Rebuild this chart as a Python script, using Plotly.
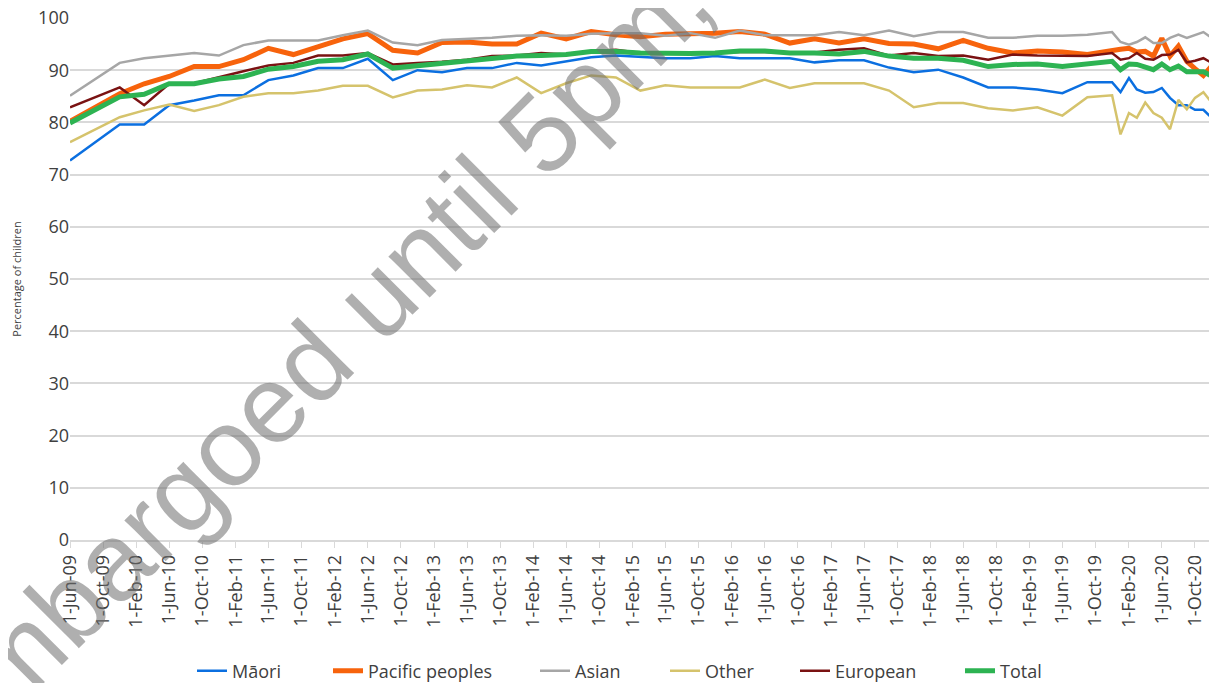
import plotly.graph_objects as go
import pandas as pd

dates = [
    "2009-06-01", "2009-12-01",
    "2010-03-01", "2010-06-01", "2010-09-01", "2010-12-01",
    "2011-03-01", "2011-06-01", "2011-09-01", "2011-12-01",
    "2012-03-01", "2012-06-01", "2012-09-01", "2012-12-01",
    "2013-03-01", "2013-06-01", "2013-09-01", "2013-12-01",
    "2014-03-01", "2014-06-01", "2014-09-01", "2014-12-01",
    "2015-03-01", "2015-06-01", "2015-09-01", "2015-12-01",
    "2016-03-01", "2016-06-01", "2016-09-01", "2016-12-01",
    "2017-03-01", "2017-06-01", "2017-09-01", "2017-12-01",
    "2018-03-01", "2018-06-01", "2018-09-01", "2018-12-01",
    "2019-03-01", "2019-06-01", "2019-09-01", "2019-12-01",
    "2020-01-01", "2020-02-01", "2020-03-01", "2020-04-01", "2020-05-01", "2020-06-01",
    "2020-07-01", "2020-08-01", "2020-09-01", "2020-10-01", "2020-11-01", "2020-12-01",
]

maori = [72.7, 79.6, 79.6, 83.3, 84.2, 85.2, 85.2, 88.1, 89.0, 90.4, 90.4, 92.2, 88.1, 90.0,
         89.6, 90.4, 90.4, 91.4, 90.9, 91.7, 92.5, 92.8, 92.5, 92.3, 92.3, 92.7, 92.3, 92.3,
         92.3, 91.5, 91.9, 91.9, 90.5, 89.6, 90.1, 88.6, 86.7, 86.7, 86.3, 85.6, 87.7, 87.7,
         85.8, 88.5, 86.3, 85.7, 85.8, 86.6, 84.7, 83.3, 83.3, 82.4, 82.4, 80.9]
pacific = [80.2, 85.5, 87.4, 88.8, 90.7, 90.7, 92.0, 94.2, 93.0, 94.6, 96.0, 97.0, 93.8, 93.3,
           95.3, 95.4, 95.0, 95.0, 97.1, 96.0, 97.4, 96.8, 96.4, 96.9, 96.9, 97.1, 97.4, 96.9,
           95.2, 96.0, 95.2, 96.0, 95.1, 95.0, 94.1, 95.7, 94.2, 93.3, 93.7, 93.5, 93.0, 93.9,
           94.0, 94.2, 93.5, 93.6, 92.7, 96.1, 92.7, 94.6, 91.7, 90.3, 89.0, 90.8]
asian = [85.1, 91.4, 92.3, 92.8, 93.3, 92.8, 94.8, 95.7, 95.7, 95.7, 96.7, 97.6, 95.3, 94.8,
         95.8, 96.0, 96.2, 96.6, 96.7, 96.6, 97.0, 97.1, 97.1, 96.6, 97.1, 96.2, 97.6, 96.7,
         96.7, 96.7, 97.3, 96.7, 97.6, 96.5, 97.3, 97.3, 96.2, 96.2, 96.6, 96.6, 96.8, 97.3,
         95.4, 94.9, 95.4, 96.3, 95.2, 95.2, 96.2, 96.8, 96.2, 96.8, 97.3, 96.2]
other = [76.2, 81.0, 82.3, 83.4, 82.2, 83.3, 84.9, 85.6, 85.6, 86.1, 87.0, 87.0, 84.8, 86.1,
         86.3, 87.1, 86.7, 88.6, 85.6, 87.5, 89.0, 88.6, 86.1, 87.1, 86.7, 86.7, 86.7, 88.2,
         86.6, 87.5, 87.5, 87.5, 86.1, 82.9, 83.7, 83.7, 82.7, 82.3, 82.9, 81.3, 84.8, 85.2,
         77.7, 81.8, 80.9, 83.8, 81.8, 80.9, 78.7, 84.3, 82.5, 84.7, 85.8, 83.8]
european = [82.9, 86.7, 83.3, 87.4, 87.5, 88.7, 89.8, 90.9, 91.4, 92.8, 92.8, 93.3, 91.1, 91.4,
            91.6, 92.0, 92.7, 92.8, 93.3, 93.0, 93.7, 93.9, 93.3, 93.3, 93.3, 93.3, 93.5, 93.5,
            93.3, 93.4, 93.9, 94.2, 92.8, 93.3, 92.7, 92.8, 92.0, 93.0, 92.8, 92.7, 92.7, 93.3,
            92.0, 92.3, 93.3, 92.2, 92.0, 92.9, 93.0, 93.9, 91.5, 91.8, 92.3, 91.4]
total = [79.9, 84.9, 85.4, 87.4, 87.4, 88.3, 88.8, 90.2, 90.7, 91.7, 92.0, 93.1, 90.4, 90.9,
         91.3, 91.7, 92.2, 92.7, 92.8, 93.0, 93.6, 93.6, 93.3, 93.2, 93.2, 93.3, 93.7, 93.7,
         93.3, 93.3, 93.1, 93.6, 92.7, 92.3, 92.3, 91.9, 90.7, 91.1, 91.2, 90.7, 91.2, 91.7,
         90.1, 91.2, 91.1, 90.6, 90.1, 91.2, 90.1, 90.8, 89.7, 89.7, 89.7, 88.9]

series_names = ["Māori", "Pacific peoples", "Asian", "Other", "European", "Total"]
series_values = [maori, pacific, asian, other, european, total]
series_colors = ["#0b6fe0", "#f7630c", "#a6a6a6", "#d5c36c", "#7a1212", "#2db352"]
series_widths = [2.5, 5, 2.5, 2.5, 2.5, 5]
# page-pixel position of each legend entry's left edge
legend_px = [192, 328, 535, 665, 795, 960]

tick_dates = pd.date_range("2009-06-01", "2020-10-01", freq="4MS")
tick_vals = [d.strftime("%Y-%m-%d") for d in tick_dates]
tick_text = ["1-" + d.strftime("%b") + "-" + d.strftime("%y") for d in tick_dates]

# The page body adds an 8px offset; the figure is sized to fit the window.
OFF = 8
W, H = 1217 - OFF, 683 - OFF
PL, PT, PR, PB = 70, 18, 1214, 540          # plot area in page pixels
ML, MT = PL - OFF, PT - OFF
MR, MB = W - (PR - OFF), H - (PB - OFF)
PW, PH = PR - PL, PB - PT

fig = go.Figure()
legend_layouts = {}
for i, (name, vals, col, w) in enumerate(zip(series_names, series_values, series_colors, series_widths)):
    lg = "legend" if i == 0 else f"legend{i + 1}"
    fig.add_trace(go.Scatter(x=dates, y=vals, mode="lines", name=name, legend=lg,
                             line=dict(color=col, width=w)))
    legend_layouts[lg] = dict(
        orientation="h", x=(legend_px[i] - PL) / PW, xanchor="left",
        y=-(671 - PB) / PH, yanchor="middle",
        font=dict(size=18, color="#404040"), bgcolor="rgba(0,0,0,0)",
    )

font_family = "Open Sans, Lato, sans-serif"
fig.update_layout(
    width=W, height=H,
    margin=dict(l=ML, r=MR, t=MT, b=MB, autoexpand=False),
    paper_bgcolor="white", plot_bgcolor="white",
    font=dict(family=font_family, color="#404040"),
    showlegend=True,
    xaxis=dict(
        type="date", range=["2009-06-01", "2020-12-10"], automargin=False,
        tickmode="array", tickvals=tick_vals, ticktext=tick_text, tickangle=-90,
        tickfont=dict(size=18, color="#404040"), ticklabeloverflow="allow",
        showgrid=False, showline=True, linecolor="#d9d9d9", linewidth=1.5,
        ticks="outside", ticklen=6, tickcolor="#d9d9d9", zeroline=False,
    ),
    yaxis=dict(
        range=[0, 100], dtick=10, tick0=0, automargin=False,
        tickfont=dict(size=18, color="#404040"), ticklabeloverflow="allow",
        showgrid=True, gridcolor="#d9d9d9", gridwidth=1.5, zeroline=False,
        title=dict(text="Percentage of children", font=dict(size=11, color="#404040"), standoff=14),
        ticks="", showline=False,
    ),
    annotations=[dict(
        text="Embargoed until 5pm,", xref="paper", yref="paper",
        x=(310 - PL) / PW, y=(PB - 362) / PH, xanchor="center", yanchor="middle",
        showarrow=False, textangle=-45,
        font=dict(family="Liberation Sans, Arial, sans-serif", size=110,
                  color="rgba(110,110,110,0.55)"),
    )],
    **legend_layouts,
)

fig.write_html("out.html")
